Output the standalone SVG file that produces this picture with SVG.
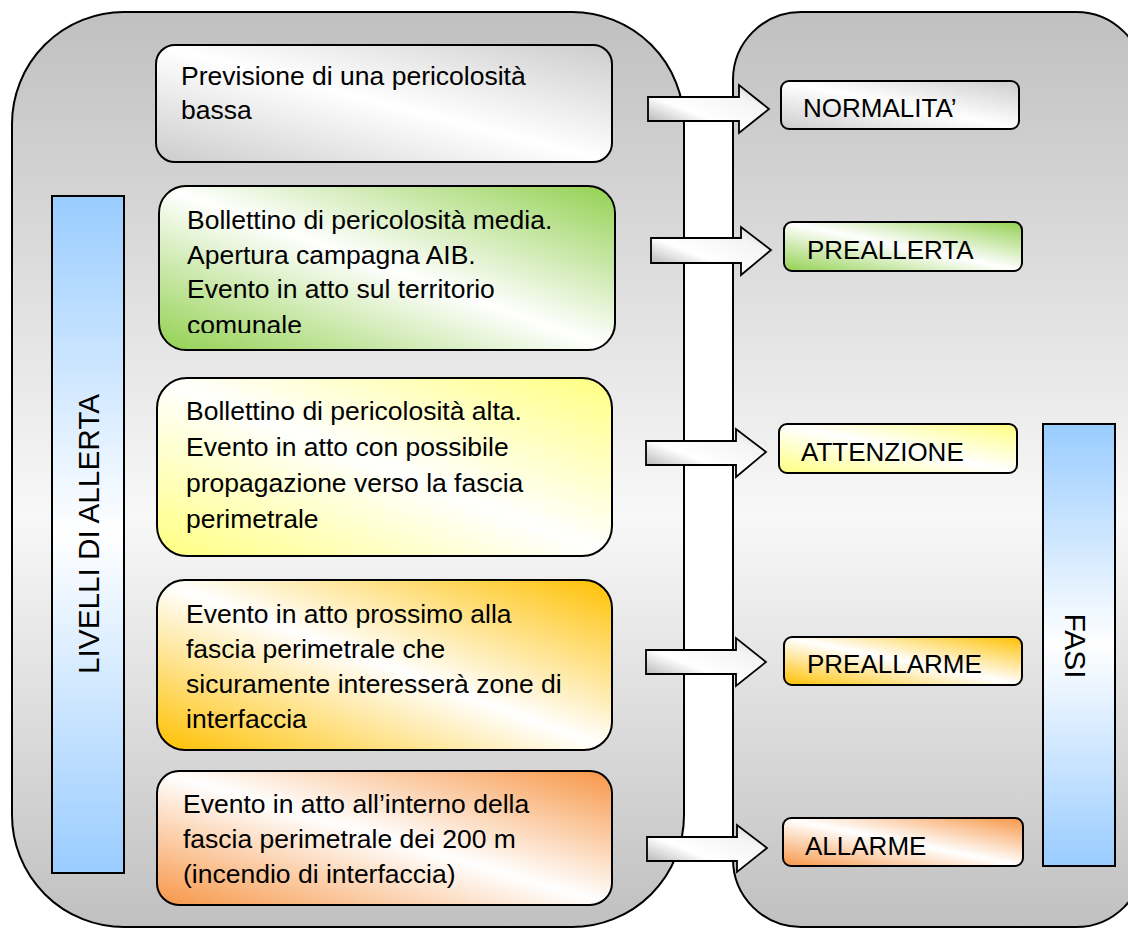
<svg xmlns="http://www.w3.org/2000/svg" width="1128" height="929" viewBox="0 0 1128 929">
<defs>
<linearGradient id="gPanel" x1="0" y1="0" x2="0" y2="1">
<stop offset="0" stop-color="#c0c0c0"/>
<stop offset="0.55" stop-color="#f8f8f8"/>
<stop offset="1" stop-color="#c0c0c0"/>
</linearGradient>
<linearGradient id="gBlue" x1="0" y1="0" x2="0" y2="1">
<stop offset="0" stop-color="#99ccff"/>
<stop offset="0.5" stop-color="#ffffff"/>
<stop offset="1" stop-color="#99ccff"/>
</linearGradient>
<linearGradient id="gGrey" x1="1" y1="0" x2="0" y2="1">
<stop offset="0" stop-color="#cccccc"/>
<stop offset="0.5" stop-color="#ffffff"/>
<stop offset="1" stop-color="#cccccc"/>
</linearGradient>
<linearGradient id="gGreen" x1="1" y1="0" x2="0" y2="1">
<stop offset="0" stop-color="#92d050"/>
<stop offset="0.5" stop-color="#ffffff"/>
<stop offset="1" stop-color="#92d050"/>
</linearGradient>
<linearGradient id="gYellow" x1="1" y1="0" x2="0" y2="1">
<stop offset="0" stop-color="#ffff80"/>
<stop offset="0.5" stop-color="#ffffff"/>
<stop offset="1" stop-color="#ffff80"/>
</linearGradient>
<linearGradient id="gGold" x1="1" y1="0" x2="0" y2="1">
<stop offset="0" stop-color="#ffc000"/>
<stop offset="0.5" stop-color="#ffffff"/>
<stop offset="1" stop-color="#ffc000"/>
</linearGradient>
<linearGradient id="gOrange" x1="1" y1="0" x2="0" y2="1">
<stop offset="0" stop-color="#f79646"/>
<stop offset="0.5" stop-color="#ffffff"/>
<stop offset="1" stop-color="#f79646"/>
</linearGradient>
<linearGradient id="gArrow" x1="0" y1="1" x2="1" y2="0">
<stop offset="0" stop-color="#9a9a9a"/>
<stop offset="0.4" stop-color="#ffffff"/>
<stop offset="0.75" stop-color="#f4f4f4"/>
<stop offset="1" stop-color="#cfcfcf"/>
</linearGradient>
<clipPath id="clipBox2"><rect x="150" y="180" width="470" height="153"/></clipPath>
</defs>
<style>
.panel{fill:url(#gPanel);stroke:#000;stroke-width:2}
.bar{fill:url(#gBlue);stroke:#000;stroke-width:2}
.box{stroke:#000;stroke-width:2}
.arrow{fill:url(#gArrow);stroke:#000;stroke-width:1.8;stroke-linejoin:miter}
text{font-family:"Liberation Sans",Arial,sans-serif;fill:#000}
.t{font-size:26.5px}
.s{font-size:26px}
.v{font-size:30px}
</style>
<rect width="1128" height="929" fill="#ffffff"/>
<g id="panel-left"><rect class="panel" x="12" y="12" width="672" height="915" rx="112" ry="112"/></g>
<g id="panel-right"><rect class="panel" x="733" y="12" width="411" height="915" rx="68" ry="68"/></g>
<g id="livelli"><rect class="bar" x="52" y="196" width="72" height="677"/>
<text class="v" transform="translate(99,534) rotate(-90)" text-anchor="middle" textLength="280" lengthAdjust="spacingAndGlyphs">LIVELLI DI ALLERTA</text></g>
<g id="fasi"><rect class="bar" x="1043" y="424" width="72" height="442"/>
<text class="v" transform="translate(1065,646) rotate(90)" text-anchor="middle">FASI</text></g>
<g id="box1"><rect class="box" x="156" y="45" width="456" height="117" rx="19" fill="url(#gGrey)"/>
<text class="t" x="181" y="85">Previsione di una pericolosità</text>
<text class="t" x="181" y="119">bassa</text></g>
<g id="box2"><rect class="box" x="159" y="186" width="456" height="164" rx="27" fill="url(#gGreen)"/>
<g clip-path="url(#clipBox2)">
<text class="t" x="187" y="229">Bollettino di pericolosità media.</text>
<text class="t" x="187" y="264">Apertura campagna AIB.</text>
<text class="t" x="187" y="298">Evento in atto sul territorio</text>
<text class="t" x="187" y="334">comunale</text></g></g>
<g id="box3"><rect class="box" x="157" y="378" width="455" height="178" rx="30" fill="url(#gYellow)"/>
<text class="t" x="186" y="420">Bollettino di pericolosità alta.</text>
<text class="t" x="186" y="456">Evento in atto con possibile</text>
<text class="t" x="186" y="492">propagazione verso la fascia</text>
<text class="t" x="186" y="528">perimetrale</text></g>
<g id="box4"><rect class="box" x="157" y="580" width="455" height="170" rx="28" fill="url(#gGold)"/>
<text class="t" x="186" y="623">Evento in atto prossimo alla</text>
<text class="t" x="186" y="658">fascia perimetrale che</text>
<text class="t" x="186" y="693">sicuramente interesserà zone di</text>
<text class="t" x="186" y="728">interfaccia</text></g>
<g id="box5"><rect class="box" x="157" y="771" width="455" height="134" rx="22" fill="url(#gOrange)"/>
<text class="t" x="183" y="813">Evento in atto all’interno della</text>
<text class="t" x="183" y="848">fascia perimetrale dei 200 m</text>
<text class="t" x="183" y="883">(incendio di interfaccia)</text></g>
<g id="normalita"><rect class="box" x="781" y="81" width="238" height="48" rx="8" fill="url(#gGrey)"/>
<text class="s" x="803" y="117">NORMALITA’</text></g>
<g id="preallerta"><rect class="box" x="784" y="222" width="238" height="49" rx="8" fill="url(#gGreen)"/>
<text class="s" x="807" y="259">PREALLERTA</text></g>
<g id="attenzione"><rect class="box" x="779" y="424" width="238" height="49" rx="8" fill="url(#gYellow)"/>
<text class="s" x="801" y="461">ATTENZIONE</text></g>
<g id="preallarme"><rect class="box" x="784" y="637" width="238" height="48" rx="8" fill="url(#gGold)"/>
<text class="s" x="807" y="673">PREALLARME</text></g>
<g id="allarme"><rect class="box" x="783" y="818" width="240" height="48" rx="8" fill="url(#gOrange)"/>
<text class="s" x="805" y="855">ALLARME</text></g>
<g id="connectors">
<path class="arrow" d="M648,97 H739 V85 L769,109 L739,133 V121 H648 Z"/>
<path class="arrow" d="M651,238 H741 V227 L771,250 L741,275 V263 H651 Z"/>
<path class="arrow" d="M646,441 H736 V429 L766,452 L736,477 V465 H646 Z"/>
<path class="arrow" d="M646,650 H736 V638 L766,662 L736,686 V674 H646 Z"/>
<path class="arrow" d="M647,837 H737 V825 L767,848 L737,872 V861 H647 Z"/>
</g>
</svg>
